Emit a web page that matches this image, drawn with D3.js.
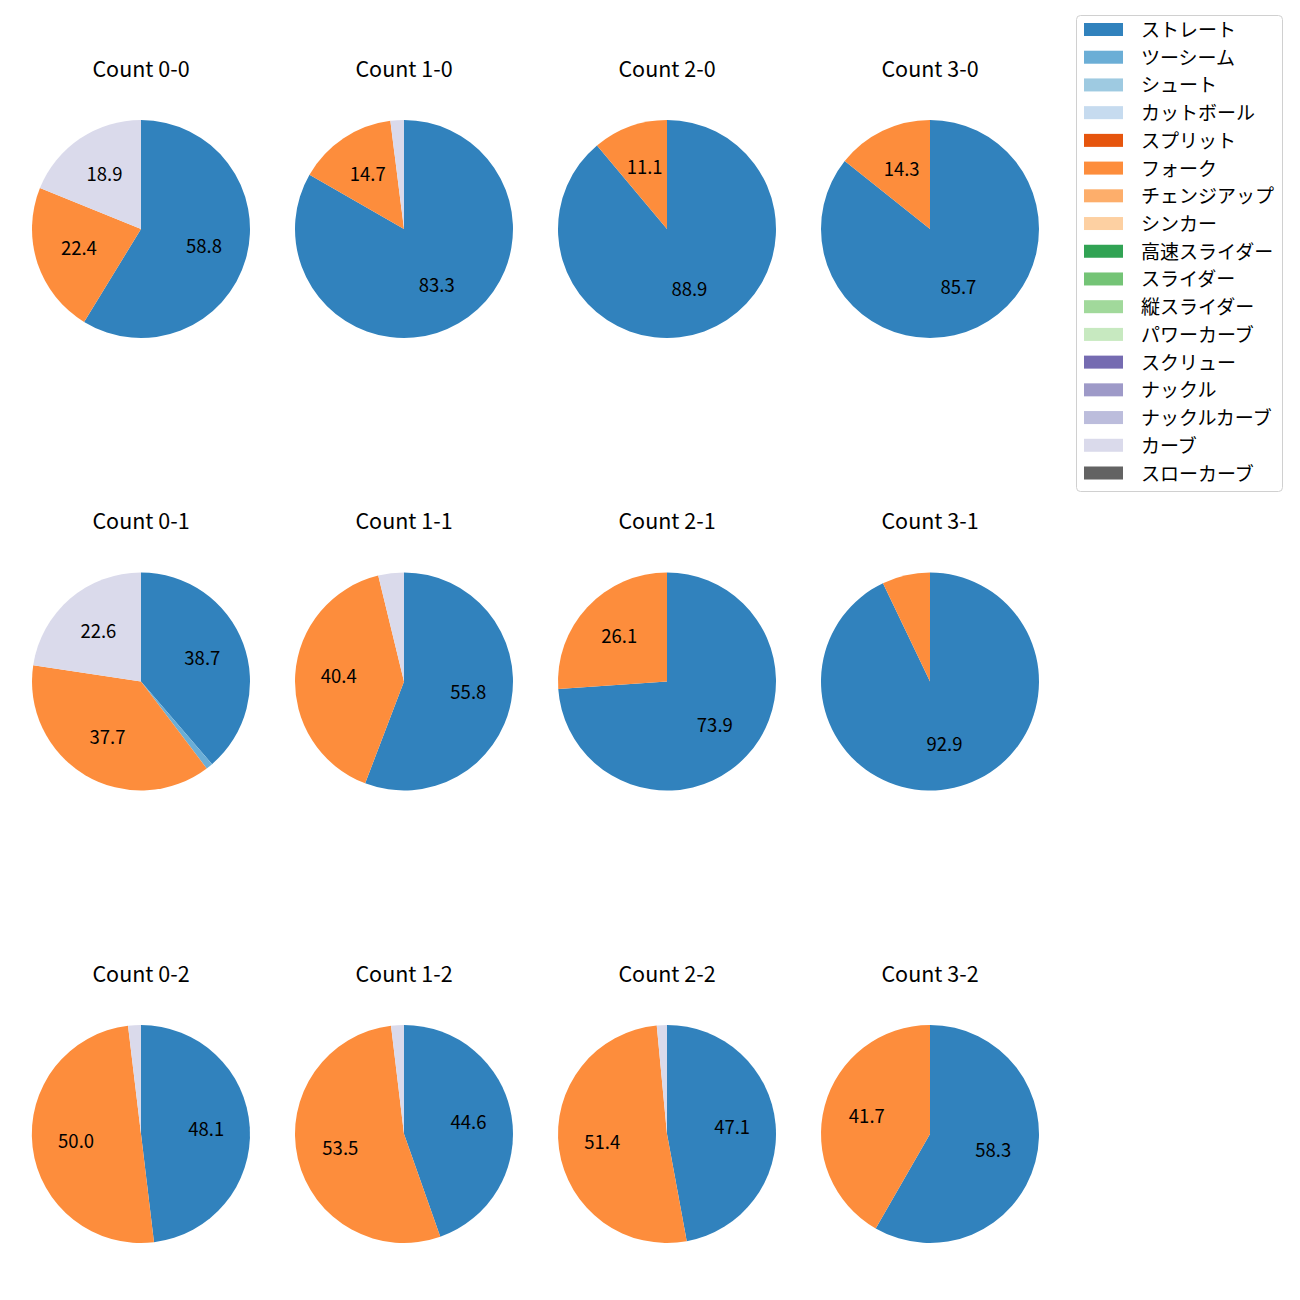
<!DOCTYPE html>
<html><head><meta charset="utf-8">
<script src="https://cdn.jsdelivr.net/npm/d3@7"></script>
<style>body{margin:0;background:#fff}svg text{font-family:"Noto Sans CJK JP","Noto Sans",sans-serif}</style>
</head><body><svg id="c" width="1300" height="1300"></svg>
<script>
const pitchTypes = ["ストレート","ツーシーム","シュート","カットボール","スプリット","フォーク","チェンジアップ","シンカー","高速スライダー","スライダー","縦スライダー","パワーカーブ","スクリュー","ナックル","ナックルカーブ","カーブ","スローカーブ"];
const colors = ["#3182bd","#6baed6","#9ecae1","#c6dbef","#e6550d","#fd8d3c","#fdae6b","#fdd0a2","#31a354","#74c476","#a1d99b","#c7e9c0","#756bb1","#9e9ac8","#bcbddc","#dadaeb","#636363"];
const counts = ["0-0","1-0","2-0","3-0","0-1","1-1","2-1","3-1","0-2","1-2","2-2","3-2"];
// series values (percent) per count
const straight = [58.8,83.3,88.9,85.7,38.7,55.8,73.9,92.9,48.1,44.6,47.1,58.3];
const twoSeam  = [0,0,0,0,1.0,0,0,0,0,0,0,0];
const fork     = [22.4,14.7,11.1,14.3,37.7,40.4,26.1,7.1,50.0,53.5,51.4,41.7];
const curve    = [18.9,2.0,0,0,22.6,3.8,0,0,1.9,1.9,1.5,0];

const seriesByType = {"ストレート":straight,"ツーシーム":twoSeam,"フォーク":fork,"カーブ":curve};

const svg = d3.select("#c");
const color = d3.scaleOrdinal().domain(pitchTypes).range(colors);
const colX = d3.scalePoint().domain([0,1,2,3]).range([141,930]);
const rowY = d3.scalePoint().domain([0,1,2]).range([229,1134]);
const R = 109;

const pie = d3.pie().sort(null).value(d=>d.v).startAngle(0).endAngle(2*Math.PI);
const arc = d3.arc().innerRadius(0).outerRadius(R);
const labelArc = d3.arc().innerRadius(R*0.6).outerRadius(R*0.6);

counts.forEach((c,i)=>{
  const cx = colX(i%4), cy = rowY(Math.floor(i/4));
  const data = pitchTypes.map(t=>({t, v: seriesByType[t] ? seriesByType[t][i] : 0})).filter(d=>d.v>0);
  const g = svg.append("g").attr("transform",`translate(${cx},${cy})`);
  const arcs = pie(data);
  g.selectAll("path").data(arcs).join("path").attr("d",arc).attr("fill",d=>color(d.data.t));
  g.selectAll("text.lbl").data(arcs.filter(d=>d.data.v>=10)).join("text").attr("class","lbl")
    .attr("transform",d=>{const p=labelArc.centroid(d);return `translate(${p[0]},${p[1]-2})`;})
    .attr("text-anchor","middle").attr("dominant-baseline","central")
    .attr("font-size","18.5px").attr("fill","#000")
    .text(d=>d.data.v.toFixed(1));
  svg.append("text").attr("x",cx).attr("y",cy-162).attr("text-anchor","middle")
    .attr("dominant-baseline","central").attr("font-size","21.5px").attr("fill","#000")
    .text("Count "+c);
});

// legend
const lg = svg.append("g");
lg.append("rect").attr("x",1076.5).attr("y",15.5).attr("width",206).attr("height",476)
  .attr("rx",4).attr("fill","#fff").attr("stroke","#d0d0d0");
const ly = d3.scaleLinear().domain([0,16]).range([29.5,473]);
pitchTypes.forEach((t,i)=>{
  lg.append("rect").attr("x",1084).attr("y",ly(i)-6.5).attr("width",39).attr("height",13).attr("fill",color(t));
  lg.append("text").attr("x",1141).attr("y",ly(i)-1).attr("dominant-baseline","central")
    .attr("font-size","19px").attr("fill","#000").text(t);
});
</script></body></html>
